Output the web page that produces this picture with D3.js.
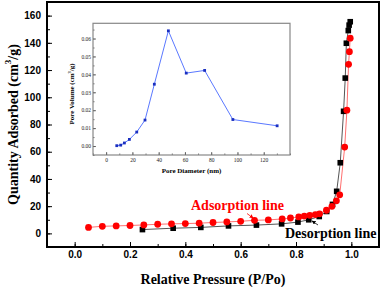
<!DOCTYPE html>
<html>
<head>
  <meta charset="utf-8">
  <title>Isoterma de adsorção</title>
  <script src="https://d3js.org/d3.v7.min.js"></script>
  <style>
    body { margin: 0; background: #fff; }
  </style>
</head>
<body>
  <svg id="grafico" width="382" height="287"></svg>

  <script>
    // dados
    const adsX = [0.05, 0.10, 0.15, 0.20, 0.25, 0.30, 0.35, 0.40, 0.45, 0.50, 0.55, 0.60, 0.65, 0.70, 0.75,
      0.78, 0.81, 0.83, 0.85, 0.87, 0.885, 0.91, 0.93, 0.946, 0.958, 0.976, 0.984, 0.990, 0.993, 0.996];
    const adsY = [4.4, 5.2, 5.5, 5.8, 6.2, 6.7, 7.0, 7.2, 7.5, 8.0, 8.4, 8.9, 9.6, 9.9, 10.6,
      11.3, 12.1, 12.7, 13.3, 13.8, 14.4, 17.0, 19.9, 23.9, 28.3, 63.4, 90.5, 124.2, 133.5, 143.4];

    const desX = [0.245, 0.356, 0.456, 0.556, 0.657, 0.748, 0.807, 0.846, 0.884, 0.911, 0.932, 0.947,
      0.960, 0.972, 0.978, 0.982, 0.989, 0.992, 0.996];
    const desY = [2.8, 3.8, 4.4, 5.5, 6.1, 7.0, 8.3, 10.0, 12.4, 16.1, 21.3, 30.9,
      51.9, 89.7, 114.1, 139.7, 149.0, 153.0, 155.5];

    const poreD = [8.1, 11.1, 13.9, 17.7, 23.3, 29.6, 36.7, 47.4, 61.0, 75.0, 96.5, 130.2];
    const poreV = [0.0002, 0.0005, 0.0017, 0.0037, 0.0078, 0.0145, 0.0345, 0.0643, 0.0407, 0.0422, 0.0148, 0.0113];

    const xTicks = [0.0, 0.2, 0.4, 0.6, 0.8, 1.0];
    const yTicks = [0, 20, 40, 60, 80, 100, 120, 140, 160];
    const insetXTicks = [0, 20, 40, 60, 80, 100, 120];
    const insetYTicks = [0, 0.01, 0.02, 0.03, 0.04, 0.05, 0.06];

    const serif = "'Liberation Serif', 'Times New Roman', serif";
    const sans = "'Liberation Sans', Arial, sans-serif";

    const svg = d3.select("#grafico");

    const x = d3.scaleLinear().domain([-0.1, 1.1]).range([47, 379]);
    const y = d3.scaleLinear().domain([-10, 170]).range([247, 2]);

    // eixos (ticks para dentro)
    function eixo(g) {
      g.select(".domain").remove();
      g.selectAll("line").attr("stroke", "#000").attr("stroke-width", 1);
    }

    svg.append("g")
      .attr("transform", `translate(0,${y.range()[0]})`)
      .call(d3.axisBottom(x).tickValues(d3.range(-0.1, 1.11, 0.1)).tickSize(-3).tickFormat(""))
      .call(eixo);
    svg.append("g")
      .attr("transform", `translate(0,${y.range()[0]})`)
      .call(d3.axisBottom(x).tickValues(xTicks).tickSize(-5).tickPadding(4).tickFormat(d3.format(".1f")))
      .call(eixo)
      .selectAll("text")
      .style("font", `bold 10px ${sans}`).attr("fill", "#000");

    svg.append("g")
      .attr("transform", `translate(${x.range()[0]},0)`)
      .call(d3.axisLeft(y).tickValues(d3.range(-10, 171, 10)).tickSize(-3).tickFormat(""))
      .call(eixo);
    svg.append("g")
      .attr("transform", `translate(${x.range()[0]},0)`)
      .call(d3.axisLeft(y).tickValues(yTicks).tickSize(-5).tickPadding(6))
      .call(eixo)
      .selectAll("text")
      .style("font", `bold 10px ${sans}`).attr("fill", "#000");

    // moldura
    svg.append("rect")
      .attr("x", x.range()[0]).attr("y", y.range()[1])
      .attr("width", x.range()[1] - x.range()[0])
      .attr("height", y.range()[0] - y.range()[1])
      .attr("fill", "none").attr("stroke", "#000").attr("stroke-width", 2);

    // títulos
    const ty = svg.append("text")
      .attr("transform", `translate(13,${(y.range()[0] + y.range()[1]) / 2}) rotate(-90)`)
      .attr("text-anchor", "middle")
      .attr("dominant-baseline", "central")
      .style("font", `bold 14px ${serif}`);
    ty.append("tspan").text("Quantity Adsorbed (cm");
    ty.append("tspan").text("3").attr("baseline-shift", "super").style("font-size", "9px");
    ty.append("tspan").text("/g)");

    svg.append("text")
      .attr("x", (x.range()[0] + x.range()[1]) / 2)
      .attr("y", 284)
      .attr("text-anchor", "middle")
      .style("font", `bold 14px ${serif}`)
      .text("Relative Pressure (P/Po)");

    // desorção
    const des = desX.map((v, i) => [v, desY[i]]);
    const ads = adsX.map((v, i) => [v, adsY[i]]);
    const linha = d3.line().x(d => x(d[0])).y(d => y(d[1]));

    svg.append("path").datum(des)
      .attr("d", linha).attr("fill", "none").attr("stroke", "#555").attr("stroke-width", 1);
    svg.append("path").datum(ads)
      .attr("d", linha).attr("fill", "none").attr("stroke", "#ff7070").attr("stroke-width", 1);

    svg.selectAll(".des").data(des).enter().append("rect")
      .attr("class", "des")
      .attr("x", d => x(d[0]) - 2.8).attr("y", d => y(d[1]) - 2.8)
      .attr("width", 5.6).attr("height", 5.6).attr("fill", "#000");

    svg.selectAll(".ads").data(ads).enter().append("circle")
      .attr("class", "ads")
      .attr("cx", d => x(d[0])).attr("cy", d => y(d[1]))
      .attr("r", 3.4).attr("fill", "#ff0000");

    // anotações
    svg.append("defs").selectAll("marker").data([["setaV", "#ff0000"], ["setaP", "#000"]]).enter()
      .append("marker")
      .attr("id", d => d[0]).attr("viewBox", "0 0 10 10").attr("refX", 10).attr("refY", 5)
      .attr("markerWidth", 5).attr("markerHeight", 5).attr("orient", "auto")
      .append("path").attr("d", "M0,0L10,5L0,10z").attr("fill", d => d[1]);

    svg.append("text")
      .attr("x", 191).attr("y", 210)
      .style("font", `bold 14px ${serif}`).attr("fill", "#ff0000")
      .text("Adsorption line");
    svg.append("line")
      .attr("x1", 247).attr("y1", 213.5)
      .attr("x2", x(adsX[12]) - 1).attr("y2", y(adsY[12]) - 2)
      .attr("stroke", "#ff0000").attr("stroke-width", 0.8).attr("marker-end", "url(#setaV)");

    svg.append("text")
      .attr("x", 285).attr("y", 238)
      .style("font", `bold 14px ${serif}`).attr("fill", "#000")
      .text("Desorption line");
    svg.append("line")
      .attr("x1", 318).attr("y1", 225)
      .attr("x2", x(desX[7]) + 3).attr("y2", y(desY[7]) + 1)
      .attr("stroke", "#000").attr("stroke-width", 0.8).attr("marker-end", "url(#setaP)");

    // gráfico interno (distribuição de poros)
    const xi = d3.scaleLinear().domain([-10, 140]).range([93, 290]);
    const yi = d3.scaleLinear().domain([-0.005, 0.0685]).range([155, 23.3]);

    const inset = svg.append("g");
    inset.append("rect")
      .attr("x", xi.range()[0]).attr("y", yi.range()[1])
      .attr("width", xi.range()[1] - xi.range()[0])
      .attr("height", yi.range()[0] - yi.range()[1])
      .attr("fill", "#fff");

    function eixoInset(g) {
      g.select(".domain").remove();
      g.selectAll("line").attr("stroke", "#333").attr("stroke-width", 0.7);
      g.selectAll("text").style("font", `5.5px ${serif}`).attr("fill", "#222");
    }

    inset.append("g")
      .attr("transform", `translate(0,${yi.range()[0]})`)
      .call(d3.axisBottom(xi).tickValues(d3.range(-10, 141, 10)).tickSize(-1.5).tickFormat(""))
      .call(eixoInset);
    inset.append("g")
      .attr("transform", `translate(0,${yi.range()[0]})`)
      .call(d3.axisBottom(xi).tickValues(insetXTicks).tickSize(-3).tickPadding(3))
      .call(eixoInset);
    inset.append("g")
      .attr("transform", `translate(${xi.range()[0]},0)`)
      .call(d3.axisLeft(yi).tickValues(d3.range(-0.005, 0.066, 0.005)).tickSize(-1.5).tickFormat(""))
      .call(eixoInset);
    inset.append("g")
      .attr("transform", `translate(${xi.range()[0]},0)`)
      .call(d3.axisLeft(yi).tickValues(insetYTicks).tickSize(-3).tickPadding(2).tickFormat(d3.format(".2f")))
      .call(eixoInset);

    inset.append("rect")
      .attr("x", xi.range()[0]).attr("y", yi.range()[1])
      .attr("width", xi.range()[1] - xi.range()[0])
      .attr("height", yi.range()[0] - yi.range()[1])
      .attr("fill", "none").attr("stroke", "#888").attr("stroke-width", 1.2);

    const poros = poreD.map((v, i) => [v, poreV[i]]);
    inset.append("path").datum(poros)
      .attr("d", d3.line().x(d => xi(d[0])).y(d => yi(d[1])))
      .attr("fill", "none").attr("stroke", "#5a78ff").attr("stroke-width", 1);
    inset.selectAll(".poro").data(poros).enter().append("rect")
      .attr("class", "poro")
      .attr("x", d => xi(d[0]) - 1.4).attr("y", d => yi(d[1]) - 1.4)
      .attr("width", 2.8).attr("height", 2.8).attr("fill", "#1a2fc0");

    const tyi = inset.append("text")
      .attr("transform", `translate(72,94) rotate(-90)`)
      .attr("text-anchor", "middle")
      .attr("dominant-baseline", "central")
      .style("font", `bold 7px ${serif}`);
    tyi.append("tspan").text("Pore Volume (cm");
    tyi.append("tspan").text("3").attr("baseline-shift", "super").style("font-size", "4.5px");
    tyi.append("tspan").text("/g)");

    inset.append("text")
      .attr("x", (xi.range()[0] + xi.range()[1]) / 2)
      .attr("y", 173)
      .attr("text-anchor", "middle")
      .style("font", `bold 7px ${serif}`)
      .text("Pore Diameter (nm)");
  </script>
</body>
</html>
